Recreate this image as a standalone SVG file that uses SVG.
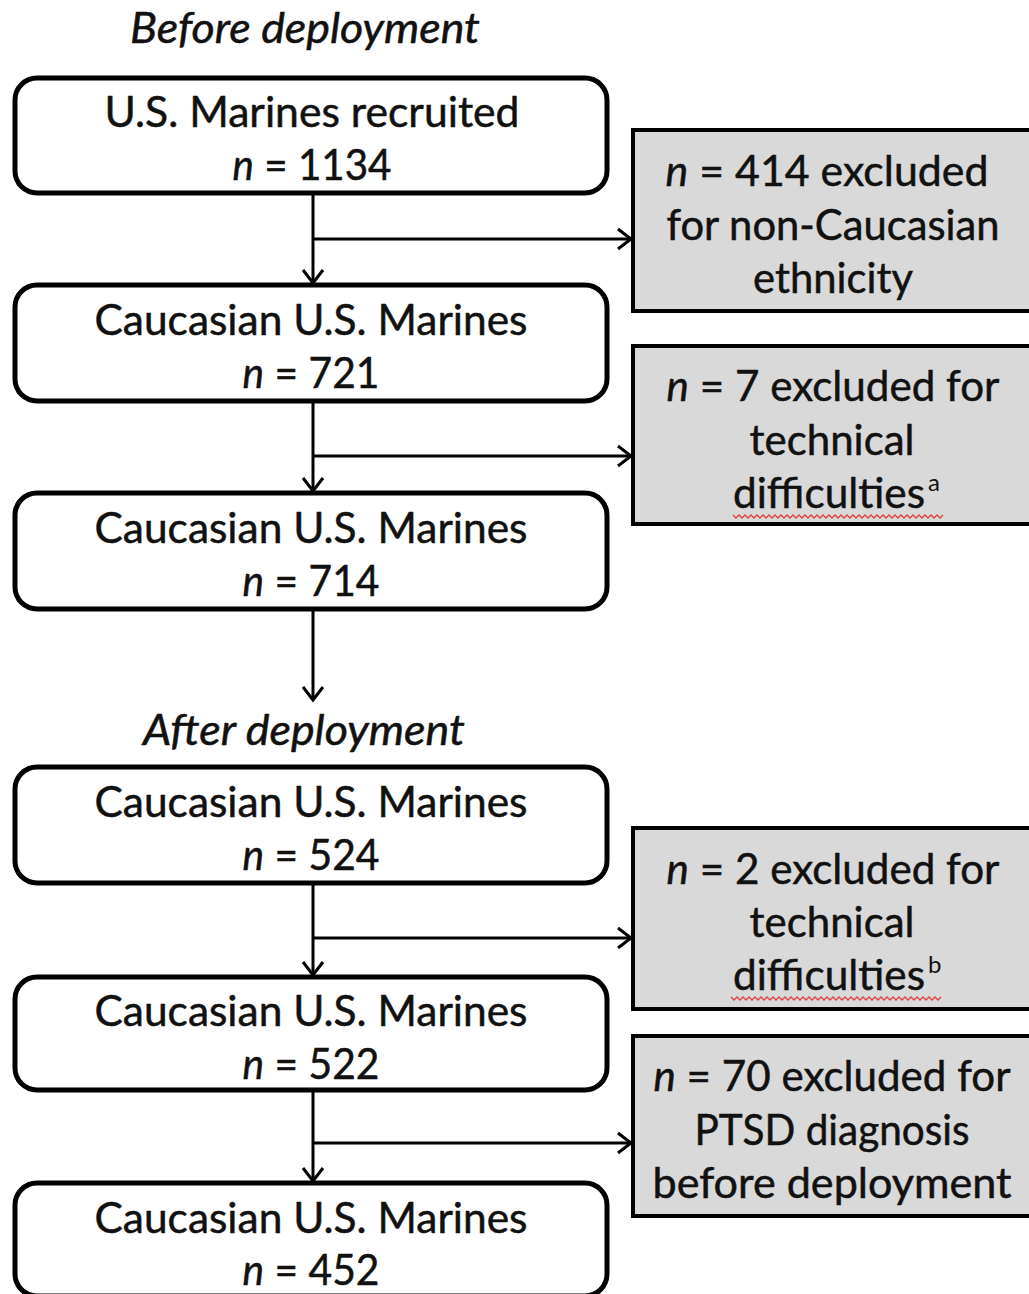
<svg xmlns="http://www.w3.org/2000/svg" width="1029" height="1294" viewBox="0 0 1029 1294">
<style>
.t{font-family:Lato,"Open Sans","Liberation Sans",sans-serif;font-size:42px;fill:#111;stroke:#111;stroke-width:0.5;text-anchor:middle}
.sup{font-family:Lato,"Open Sans","Liberation Sans",sans-serif;font-size:24px;fill:#111;text-anchor:start}
.i{font-style:italic}
.box{fill:#fff;stroke:#000;stroke-width:5}
.ex{fill:#d9d9d9;stroke:#000;stroke-width:4}
.c{stroke:#000;stroke-width:3;fill:none}
.w{stroke:#e04040;stroke-width:1.3;fill:none}
</style>
<defs>
<marker id="ah" markerUnits="userSpaceOnUse" markerWidth="20" markerHeight="24" refX="15" refY="12" orient="auto">
<path d="M2,2 L15,12 L2,22" fill="none" stroke="#000" stroke-width="3"/>
</marker>
</defs>
<text class="t i" x="305" y="43" textLength="350" lengthAdjust="spacingAndGlyphs">Before deployment</text>
<text class="t i" x="304" y="745" textLength="322" lengthAdjust="spacingAndGlyphs">After deployment</text>
<g id="connectors">
<line class="c" x1="313" y1="193" x2="313" y2="283" marker-end="url(#ah)"/>
<line class="c" x1="313" y1="239" x2="631" y2="239" marker-end="url(#ah)"/>
<line class="c" x1="313" y1="401" x2="313" y2="491" marker-end="url(#ah)"/>
<line class="c" x1="313" y1="456" x2="631" y2="456" marker-end="url(#ah)"/>
<line class="c" x1="313" y1="609" x2="313" y2="700" marker-end="url(#ah)"/>
<line class="c" x1="313" y1="883" x2="313" y2="975" marker-end="url(#ah)"/>
<line class="c" x1="313" y1="938" x2="631" y2="938" marker-end="url(#ah)"/>
<line class="c" x1="313" y1="1090" x2="313" y2="1181" marker-end="url(#ah)"/>
<line class="c" x1="313" y1="1143" x2="631" y2="1143" marker-end="url(#ah)"/>
</g>
<g id="n1">
<rect class="box" x="15" y="78" width="592" height="115" rx="22"/>
<text class="t" x="312" y="127" textLength="415" lengthAdjust="spacingAndGlyphs">U.S. Marines recruited</text>
<text class="t" x="312" y="180" textLength="159" lengthAdjust="spacingAndGlyphs"><tspan class="i">n</tspan> = 1134</text>
</g>
<g id="n2">
<rect class="box" x="15" y="285" width="592" height="116" rx="22"/>
<text class="t" x="311" y="335" textLength="433" lengthAdjust="spacingAndGlyphs">Caucasian U.S. Marines</text>
<text class="t" x="311" y="388" textLength="137" lengthAdjust="spacingAndGlyphs"><tspan class="i">n</tspan> = 721</text>
</g>
<g id="n3">
<rect class="box" x="15" y="493" width="592" height="116" rx="22"/>
<text class="t" x="311" y="543" textLength="433" lengthAdjust="spacingAndGlyphs">Caucasian U.S. Marines</text>
<text class="t" x="311" y="596" textLength="137" lengthAdjust="spacingAndGlyphs"><tspan class="i">n</tspan> = 714</text>
</g>
<g id="n4">
<rect class="box" x="15" y="767" width="592" height="116" rx="22"/>
<text class="t" x="311" y="817" textLength="433" lengthAdjust="spacingAndGlyphs">Caucasian U.S. Marines</text>
<text class="t" x="311" y="870" textLength="137" lengthAdjust="spacingAndGlyphs"><tspan class="i">n</tspan> = 524</text>
</g>
<g id="n5">
<rect class="box" x="15" y="977" width="592" height="113" rx="22"/>
<text class="t" x="311" y="1026" textLength="433" lengthAdjust="spacingAndGlyphs">Caucasian U.S. Marines</text>
<text class="t" x="311" y="1079" textLength="137" lengthAdjust="spacingAndGlyphs"><tspan class="i">n</tspan> = 522</text>
</g>
<g id="n6">
<rect class="box" x="15" y="1183" width="592" height="113" rx="22"/>
<text class="t" x="311" y="1233" textLength="433" lengthAdjust="spacingAndGlyphs">Caucasian U.S. Marines</text>
<text class="t" x="311" y="1285" textLength="137" lengthAdjust="spacingAndGlyphs"><tspan class="i">n</tspan> = 452</text>
</g>
<g id="e1">
<rect class="ex" x="633" y="130" width="410" height="181"/>
<text class="t" x="827" y="186" textLength="323" lengthAdjust="spacingAndGlyphs"><tspan class="i">n</tspan> = 414 excluded</text>
<text class="t" x="833" y="240" textLength="333" lengthAdjust="spacingAndGlyphs">for non-Caucasian</text>
<text class="t" x="833" y="293" textLength="160" lengthAdjust="spacingAndGlyphs">ethnicity</text>
</g>
<g id="e2">
<rect class="ex" x="633" y="346" width="410" height="178"/>
<text class="t" x="833" y="401" textLength="333" lengthAdjust="spacingAndGlyphs"><tspan class="i">n</tspan> = 7 excluded for</text>
<text class="t" x="832" y="455" textLength="165" lengthAdjust="spacingAndGlyphs">technical</text>
<text class="t" x="829" y="508" textLength="192" lengthAdjust="spacingAndGlyphs">difficulties</text>
<text class="sup" x="928" y="491">a</text>
<polyline class="w" points="733,515 736,518 739,515 742,518 745,515 748,518 751,515 754,518 757,515 760,518 763,515 766,518 769,515 772,518 775,515 778,518 781,515 784,518 787,515 790,518 793,515 796,518 799,515 802,518 805,515 808,518 811,515 814,518 817,515 820,518 823,515 826,518 829,515 832,518 835,515 838,518 841,515 844,518 847,515 850,518 853,515 856,518 859,515 862,518 865,515 868,518 871,515 874,518 877,515 880,518 883,515 886,518 889,515 892,518 895,515 898,518 901,515 904,518 907,515 910,518 913,515 916,518 919,515 922,518 925,515 928,518 931,515 934,518 937,515 940,518 943,515"/>
</g>
<g id="e3">
<rect class="ex" x="633" y="828" width="410" height="181"/>
<text class="t" x="833" y="884" textLength="333" lengthAdjust="spacingAndGlyphs"><tspan class="i">n</tspan> = 2 excluded for</text>
<text class="t" x="832" y="937" textLength="165" lengthAdjust="spacingAndGlyphs">technical</text>
<text class="t" x="829" y="990" textLength="192" lengthAdjust="spacingAndGlyphs">difficulties</text>
<text class="sup" x="928" y="973">b</text>
<polyline class="w" points="731,997 734,1000 737,997 740,1000 743,997 746,1000 749,997 752,1000 755,997 758,1000 761,997 764,1000 767,997 770,1000 773,997 776,1000 779,997 782,1000 785,997 788,1000 791,997 794,1000 797,997 800,1000 803,997 806,1000 809,997 812,1000 815,997 818,1000 821,997 824,1000 827,997 830,1000 833,997 836,1000 839,997 842,1000 845,997 848,1000 851,997 854,1000 857,997 860,1000 863,997 866,1000 869,997 872,1000 875,997 878,1000 881,997 884,1000 887,997 890,1000 893,997 896,1000 899,997 902,1000 905,997 908,1000 911,997 914,1000 917,997 920,1000 923,997 926,1000 929,997 932,1000 935,997 938,1000 941,997"/>
</g>
<g id="e4">
<rect class="ex" x="633" y="1036" width="410" height="180"/>
<text class="t" x="832" y="1091" textLength="357" lengthAdjust="spacingAndGlyphs"><tspan class="i">n</tspan> = 70 excluded for</text>
<text class="t" x="832" y="1145" textLength="275" lengthAdjust="spacingAndGlyphs">PTSD diagnosis</text>
<text class="t" x="832" y="1198" textLength="359" lengthAdjust="spacingAndGlyphs">before deployment</text>
</g>
</svg>
